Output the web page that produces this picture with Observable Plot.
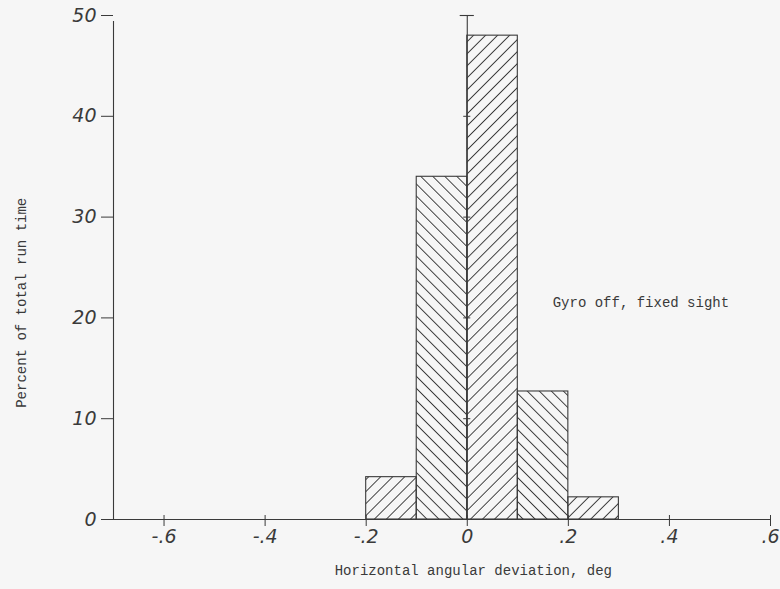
<!DOCTYPE html>
<html>
<head>
<meta charset="utf-8">
<script src="https://cdn.jsdelivr.net/npm/d3@7"></script>
<script src="https://cdn.jsdelivr.net/npm/@observablehq/plot@0.6"></script>
<style>
  html, body { margin: 0; padding: 0; background: #f6f6f6; }
  #chart svg { display: block; }
  #chart [aria-label="x-axis tick label"] text,
  #chart [aria-label="y-axis tick label"] text {
    font-family: "DejaVu Sans ExtraLight", "DejaVu Sans", sans-serif;
    font-weight: 200;
    font-style: italic;
    font-size: 19px;
  }
  #chart .typed text {
    font-family: "Liberation Mono", monospace;
    font-size: 14px;
  }
</style>
</head>
<body>
<div id="chart"></div>
<script>
// ---- data ----
const binStart = [-0.2, -0.1, 0.0, 0.1, 0.2];
const binEnd   = [-0.1,  0.0, 0.1, 0.2, 0.3];
const percent  = [4.2, 34, 48, 12.7, 2.2];
const hatch    = ["/", "\\", "/", "\\", "/"];

const xTicks      = [-0.6, -0.4, -0.2, 0, 0.2, 0.4, 0.6];
const xTickLabels = ["-.6", "-.4", "-.2", "0", ".2", ".4", ".6"];
const yTicks      = [0, 10, 20, 30, 40, 50];
const yTickLabels = ["0", "10", "20", "30", "40", "50"];
const zeroLineTicks = [10, 20, 30, 40];

const xLabel = "Horizontal angular deviation, deg";
const yLabel = "Percent of total run time";
const note = "Gyro off, fixed sight";

const ink = "#3a3a3a";
const bg = "#f6f6f6";

const rows = binStart.map((s, i) => ({x1: s, x2: binEnd[i], y: percent[i], hatch: hatch[i]}));

const plot = Plot.plot({
  width: 780,
  height: 589,
  marginLeft: 113,
  marginRight: 10,
  marginTop: 15,
  marginBottom: 70,
  style: {background: bg, color: ink},
  x: {domain: [-0.7, 0.6]},
  y: {domain: [0, 50]},
  marks: [
    Plot.rectY(rows.filter(d => d.hatch === "/"), {x1: "x1", x2: "x2", y: "y", fill: "url(#hatch-fwd)", stroke: ink, strokeWidth: 1.1}),
    Plot.rectY(rows.filter(d => d.hatch === "\\"), {x1: "x1", x2: "x2", y: "y", fill: "url(#hatch-back)", stroke: ink, strokeWidth: 1.1}),
    // zero reference line with cap and small ticks
    Plot.ruleX([0], {y1: 0, y2: 50, stroke: ink, strokeWidth: 1.1}),
    Plot.ruleY([50], {x1: -0.014, x2: 0.014, stroke: ink, strokeWidth: 1.1}),
    Plot.ruleY(zeroLineTicks, {x1: -0.007, x2: 0.007, stroke: ink, strokeWidth: 1}),
    // axes lines
    Plot.ruleY([0], {stroke: ink, strokeWidth: 1.1, insetLeft: -8}),
    Plot.ruleX([-0.7], {y1: 0, y2: 50, stroke: ink, strokeWidth: 1.1, insetBottom: -6}),
    Plot.ruleX(xTicks, {y1: 0, y2: 0, insetTop: -4, stroke: ink}),
    Plot.axisY(yTicks, {tickSize: 12, tickPadding: 5, label: null, stroke: ink, fill: ink,
      tickFormat: d => yTickLabels[yTicks.indexOf(d)]}),
    Plot.axisX(xTicks, {tickSize: 7, tickPadding: 3, label: null, stroke: ink, fill: ink,
      tickFormat: d => xTickLabels[xTicks.indexOf(d)]}),
    // typed labels
    Plot.text([note], {x: 0.169, y: 21.5, text: d => d, textAnchor: "start", fill: ink, className: "typed"}),
    Plot.text([xLabel], {x: 0.012, frameAnchor: "bottom", dy: 55, text: d => d, fill: ink, className: "typed"}),
    Plot.text([yLabel], {y: 21.5, frameAnchor: "left", textAnchor: "middle", dx: -92, rotate: -90, text: d => d, fill: ink, className: "typed"})
  ]
});

// hatch patterns aligned on the zero line
const x0 = plot.scale("x").apply(0);
const ns = "http://www.w3.org/2000/svg";
const defs = document.createElementNS(ns, "defs");
function makePattern(id, angle) {
  const p = document.createElementNS(ns, "pattern");
  p.setAttribute("id", id);
  p.setAttribute("patternUnits", "userSpaceOnUse");
  p.setAttribute("width", "8.5");
  p.setAttribute("height", "8.5");
  p.setAttribute("patternTransform", `translate(${x0},0) rotate(${angle})`);
  const l = document.createElementNS(ns, "line");
  l.setAttribute("x1", "4.25"); l.setAttribute("x2", "4.25");
  l.setAttribute("y1", "-1"); l.setAttribute("y2", "9.5");
  l.setAttribute("stroke", ink);
  l.setAttribute("stroke-width", "1");
  p.appendChild(l);
  defs.appendChild(p);
}
makePattern("hatch-fwd", 45);
makePattern("hatch-back", -45);
plot.insertBefore(defs, plot.firstChild);

document.getElementById("chart").appendChild(plot);
</script>
</body>
</html>
